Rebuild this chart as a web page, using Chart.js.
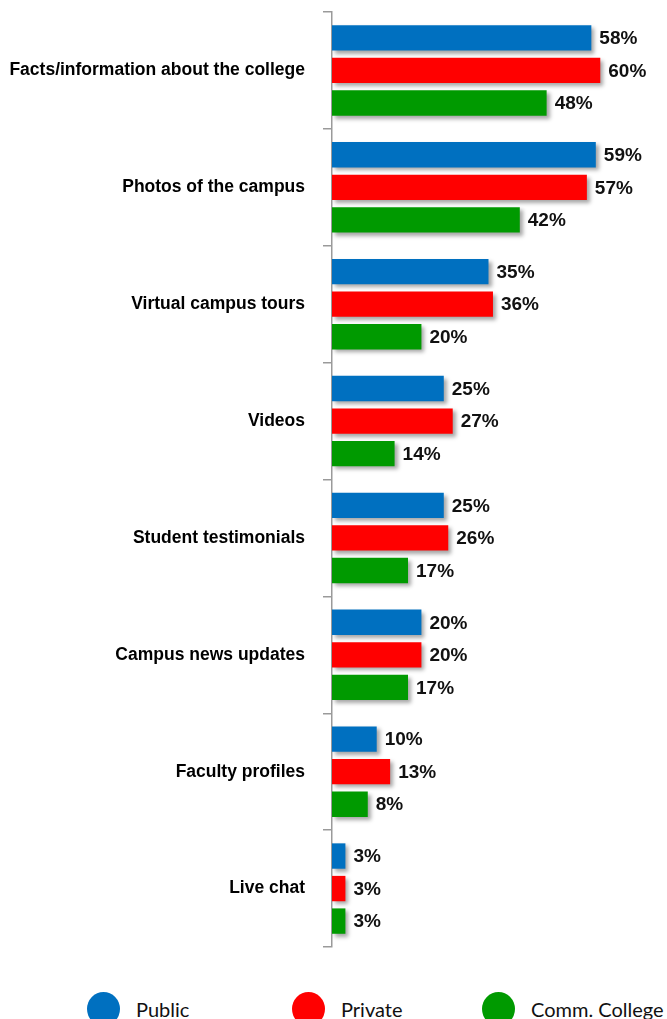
<!DOCTYPE html>
<html>
<head>
<meta charset="utf-8">
<script src="https://cdn.jsdelivr.net/npm/chart.js@4"></script>
<style>
  html, body { margin: 0; padding: 0; background: #fff; }
  #wrap { position: relative; width: 667px; height: 1019px; overflow: hidden; }
  #chart-box { position: absolute; left: 0; top: 0; width: 667px; height: 960px; }
  #legend { position: absolute; top: 992px; left: 0; width: 667px; height: 40px; }
  .legend-item { position: absolute; top: 0; display: flex; align-items: center;
    font-family: Lato, "Open Sans", sans-serif; font-size: 20px; color: #111; white-space: nowrap; }
  .legend-dot { width: 33px; height: 34px; border-radius: 50%; margin-right: 16px; }
</style>
</head>
<body>
<div id="wrap">
  <div id="chart-box"><canvas id="survey-chart"></canvas></div>
  <div id="legend"></div>
</div>
<script>
// Categories and series (percent)
const categories = [
  "Facts/information about the college",
  "Photos of the campus",
  "Virtual campus tours",
  "Videos",
  "Student testimonials",
  "Campus news updates",
  "Faculty profiles",
  "Live chat"
];
const seriesNames = ["Public", "Private", "Comm. College"];
const publicValues  = [58, 59, 35, 25, 25, 20, 10, 3];
const privateValues = [60, 57, 36, 27, 26, 20, 13, 3];
const commValues    = [48, 42, 20, 14, 17, 17, 8, 3];
const seriesColors = ["#0070C0", "#FF0000", "#009A00"];

const legendLeft = [87, 292, 482];

Chart.defaults.font.family = "'Liberation Sans', Arial, sans-serif";
Chart.defaults.color = "#000";

// soft drop shadow behind the bars
const barShadow = {
  id: "barShadow",
  beforeDatasetsDraw(chart) {
    const ctx = chart.ctx;
    ctx.save();
    ctx.shadowColor = "rgba(0, 0, 0, 0.35)";
    ctx.shadowBlur = 4;
    ctx.shadowOffsetX = 3;
    ctx.shadowOffsetY = 3;
  },
  afterDatasetsDraw(chart) {
    chart.ctx.restore();
  }
};

// percent labels at the end of each bar
const valueLabels = {
  id: "valueLabels",
  afterDatasetsDraw(chart) {
    const ctx = chart.ctx;
    ctx.save();
    ctx.font = "bold 19px 'Liberation Sans', Arial, sans-serif";
    ctx.fillStyle = "#111";
    ctx.textAlign = "left";
    ctx.textBaseline = "middle";
    chart.data.datasets.forEach((ds, i) => {
      chart.getDatasetMeta(i).data.forEach((bar, j) => {
        ctx.fillText(ds.data[j] + "%", bar.x + 8, bar.y + 1);
      });
    });
    ctx.restore();
  }
};

const datasets = [publicValues, privateValues, commValues].map((vals, i) => ({
  label: seriesNames[i],
  data: vals,
  backgroundColor: seriesColors[i],
  borderWidth: 0,
  categoryPercentage: 0.835,
  barPercentage: 0.78
}));

new Chart(document.getElementById("survey-chart"), {
  type: "bar",
  data: { labels: categories, datasets },
  plugins: [barShadow, valueLabels],
  options: {
    indexAxis: "y",
    responsive: true,
    maintainAspectRatio: false,
    animation: false,
    layout: { padding: { top: 12, bottom: 13, left: 0, right: 22 } },
    plugins: {
      legend: { display: false },
      tooltip: { enabled: false }
    },
    scales: {
      x: { min: 0, max: 70, display: false },
      y: {
        // fixed axis width, and no extra room for the end labels
        afterFit: (scale) => {
          scale.width = 332;
          scale.paddingTop = 0;
          scale.paddingBottom = 0;
        },
        grid: {
          offset: true,
          drawOnChartArea: false,
          tickLength: 9,
          color: "#9a9a9a",
          lineWidth: 1.5
        },
        border: { color: "#9a9a9a", width: 1.5 },
        ticks: {
          padding: 18,
          color: "#000",
          font: { size: 17.5, weight: "bold" }
        }
      }
    }
  }
});

// legend row under the chart
const legendEl = document.getElementById("legend");
seriesNames.forEach((name, i) => {
  const item = document.createElement("div");
  item.className = "legend-item";
  item.style.left = legendLeft[i] + "px";
  item.innerHTML = `<span class="legend-dot" style="background:${seriesColors[i]}"></span><span>${name}</span>`;
  legendEl.appendChild(item);
});
</script>
</body>
</html>
